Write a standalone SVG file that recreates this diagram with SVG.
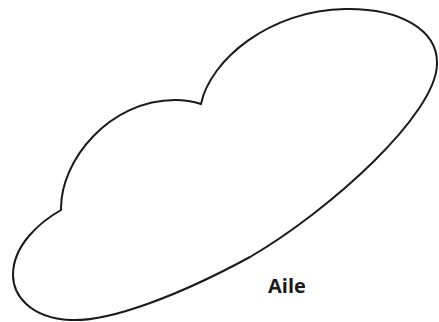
<svg xmlns="http://www.w3.org/2000/svg" width="439" height="322" viewBox="0 0 439 322">
<style>
.shape{fill:#fff;stroke:#1a1a1a;stroke-width:2;stroke-linejoin:miter}
.lbl{font-family:"Open Sans",sans-serif;font-weight:bold;font-size:20px;fill:#1a1a1a}
</style>
<rect width="439" height="322" fill="#fff"/>
<g id="aile">
<path class="shape" d="M201,104 C210,60 270,10 345,9 C400,8 438,30 437,64 C436,115 330,210 250,257 C180,295 110,322 70,320 C30,318 13,295 13,275 C13,245 40,222 61,210 C60,160 110,100 175,100 C185,100 195,102 201,104 Z"/>
<text class="lbl" x="268" y="293">Aile</text>
</g>
</svg>
